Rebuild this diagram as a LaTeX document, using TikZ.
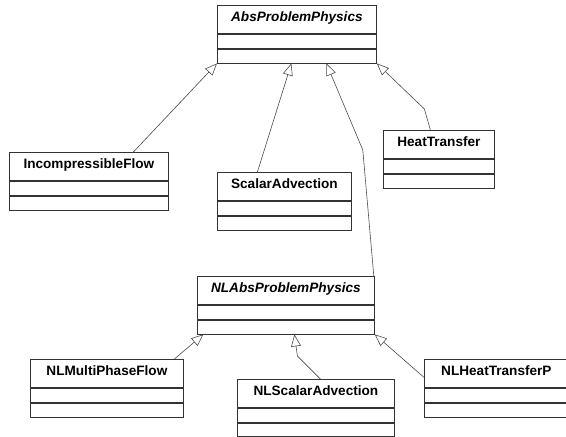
\documentclass[tikz,border=0pt]{standalone}
\usepackage{fontspec}
\setmainfont{Liberation Sans}
\usetikzlibrary{arrows.meta,positioning}

\begin{document}
\begin{tikzpicture}[x=1pt,y=-1pt,node distance=0pt,
    cls/.style={draw=black!80,line width=0.8pt,anchor=north west,inner sep=0pt,
        minimum height=28pt,text height=16pt,text depth=12pt,
        font=\fontsize{13.6}{16}\selectfont\bfseries},
    abscls/.style={cls,font=\fontsize{13.6}{16}\selectfont\bfseries\itshape},
    slot/.style={draw=black!80,line width=0.8pt,inner sep=0pt,minimum height=14pt},
    gen/.style={draw=black!70,line width=0.6pt,-{Triangle[open,length=12pt,width=10pt]}}]
    \path[fill=white,use as bounding box] (0,0) rectangle (566,437);

    % top level
    \node[abscls,minimum width=159pt] (abs) at (217,5) {AbsProblemPhysics};
    \node[slot,minimum width=159pt,below=of abs]   (abs_a) {};
    \node[slot,minimum width=159pt,below=of abs_a] (abs_b) {};

    \node[cls,minimum width=159pt] (inc) at (9,152) {IncompressibleFlow};
    \node[slot,minimum width=159pt,below=of inc]   (inc_a) {};
    \node[slot,minimum width=159pt,below=of inc_a] (inc_b) {};

    \node[cls,minimum width=134pt] (sca) at (217,172) {ScalarAdvection};
    \node[slot,minimum width=134pt,below=of sca]   (sca_a) {};
    \node[slot,minimum width=134pt,below=of sca_a] (sca_b) {};

    \node[cls,minimum width=111pt] (heat) at (383,130) {HeatTransfer};
    \node[slot,minimum width=111pt,below=of heat]   (heat_a) {};
    \node[slot,minimum width=111pt,below=of heat_a] (heat_b) {};

    % non linear level
    \node[abscls,minimum width=177pt] (nlabs) at (197,276) {NLAbsProblemPhysics};
    \node[slot,minimum width=177pt,below=of nlabs]   (nlabs_a) {};
    \node[slot,minimum width=177pt,below=of nlabs_a] (nlabs_b) {};

    \node[cls,minimum width=153pt] (nlmul) at (30,359) {NLMultiPhaseFlow};
    \node[slot,minimum width=153pt,below=of nlmul]   (nlmul_a) {};
    \node[slot,minimum width=153pt,below=of nlmul_a] (nlmul_b) {};

    \node[cls,minimum width=157pt] (nlsca) at (237,379) {NLScalarAdvection};
    \node[slot,minimum width=157pt,below=of nlsca]   (nlsca_a) {};
    \node[slot,minimum width=157pt,minimum height=13pt,below=of nlsca_a] (nlsca_b) {};

    \node[cls,minimum width=144pt] (nlheat) at (424,359) {NLHeatTransferP};
    \node[slot,minimum width=144pt,below=of nlheat]   (nlheat_a) {};
    \node[slot,minimum width=144pt,below=of nlheat_a] (nlheat_b) {};

    % generalisations
    \draw[gen] ([xshift=44.5pt]inc.north) -- (abs_b.south west);
    \draw[gen] ([xshift=-27pt]sca.north) -- ([xshift=-5.5pt]abs_b.south);
    \draw[gen] ([xshift=-1pt]nlabs.north east) -- ++(-11,-126) -- ([xshift=29.5pt]abs_b.south);
    \draw[gen] ([xshift=-8.5pt]heat.north) -- ++(-6,-21) -- (abs_b.south east);
    \draw[gen] ([xshift=67.5pt]nlmul.north) -- ([xshift=-82.5pt]nlabs_b.south);
    \draw[gen] ([xshift=4.5pt]nlsca.north) -- ++(-23,-23) -- ([xshift=8.5pt]nlabs_b.south);
    \draw[gen] ([yshift=-4pt]nlheat.west) -- (nlabs_b.south east);
\end{tikzpicture}
\end{document}
